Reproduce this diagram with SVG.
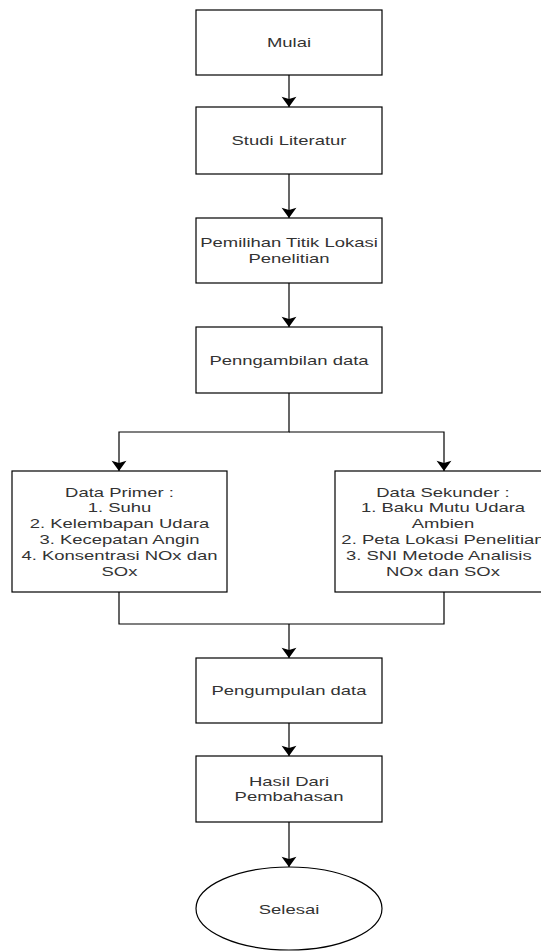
<svg xmlns="http://www.w3.org/2000/svg" width="541" height="952" viewBox="0 0 541 952">
<style>
.box{fill:#fff;stroke:#000;stroke-width:1.2}
.ln{fill:none;stroke:#000;stroke-width:1.2}
.t{font-family:"Liberation Sans",Arial,sans-serif;font-size:13.2px;fill:#333;text-anchor:middle}
</style>
<defs>
<marker id="arr" markerUnits="userSpaceOnUse" markerWidth="12" markerHeight="16" viewBox="0 -7 10 14" refX="9" refY="0" orient="auto">
<path d="M0,-6.5 L9,0 L0,6.5 L2,0 Z" fill="#000"/>
</marker>
</defs>
<rect width="541" height="952" fill="#fff"/>
<g id="connectors">
<path class="ln" d="M289,75 V107" marker-end="url(#arr)"/>
<path class="ln" d="M289,174 V218" marker-end="url(#arr)"/>
<path class="ln" d="M289,283 V327" marker-end="url(#arr)"/>
<path class="ln" d="M289,393 V432 H119 V471" marker-end="url(#arr)"/>
<path class="ln" d="M289,432 H444 V471" marker-end="url(#arr)"/>
<path class="ln" d="M119,592 V624 H444 V592"/>
<path class="ln" d="M289,624 V658" marker-end="url(#arr)"/>
<path class="ln" d="M289,723 V756" marker-end="url(#arr)"/>
<path class="ln" d="M289,822 V867" marker-end="url(#arr)"/>
</g>
<g id="mulai">
<rect class="box" x="196" y="10" width="186" height="65"/>
<g transform="translate(289 0) scale(1.4 1)"><text class="t" y="47.2">Mulai</text></g>
</g>
<g id="studi">
<rect class="box" x="196" y="107" width="186" height="67"/>
<g transform="translate(289 0) scale(1.4 1)"><text class="t" y="145.2">Studi Literatur</text></g>
</g>
<g id="pemilihan">
<rect class="box" x="196" y="218" width="186" height="65"/>
<g transform="translate(289 0) scale(1.4 1)"><text class="t" y="247.2">Pemilihan Titik Lokasi</text><text class="t" y="263">Penelitian</text></g>
</g>
<g id="penngambilan">
<rect class="box" x="196" y="327" width="186" height="66"/>
<g transform="translate(289 0) scale(1.4 1)"><text class="t" y="364.7">Penngambilan data</text></g>
</g>
<g id="primer">
<rect class="box" x="12" y="471" width="215" height="121"/>
<g transform="translate(119.5 0) scale(1.4 1)">
<text class="t" y="496.7">Data Primer :</text>
<text class="t" y="512.5">1. Suhu</text>
<text class="t" y="528.3">2. Kelembapan Udara</text>
<text class="t" y="544.1">3. Kecepatan Angin</text>
<text class="t" y="559.9">4. Konsentrasi NOx dan</text>
<text class="t" y="575.7">SOx</text>
</g>
</g>
<g id="sekunder">
<rect class="box" x="335" y="471" width="216" height="121"/>
<g transform="translate(443 0) scale(1.4 1)">
<text class="t" y="496.7">Data Sekunder :</text>
<text class="t" y="512.5">1. Baku Mutu Udara</text>
<text class="t" y="528.3">Ambien</text>
<text class="t" y="544.1">2. Peta Lokasi Penelitian</text>
<text class="t" x="-3" y="559.9">3. SNI Metode Analisis</text>
<text class="t" y="575.7">NOx dan SOx</text>
</g>
</g>
<g id="pengumpulan">
<rect class="box" x="196" y="658" width="186" height="65"/>
<g transform="translate(289 0) scale(1.4 1)"><text class="t" y="695.2">Pengumpulan data</text></g>
</g>
<g id="hasil">
<rect class="box" x="196" y="756" width="186" height="66"/>
<g transform="translate(289 0) scale(1.4 1)"><text class="t" y="785.7">Hasil Dari</text><text class="t" y="801.5">Pembahasan</text></g>
</g>
<g id="selesai">
<ellipse class="box" cx="289" cy="908.5" rx="93" ry="41.5"/>
<g transform="translate(289 0) scale(1.4 1)"><text class="t" y="913.7">Selesai</text></g>
</g>
</svg>
